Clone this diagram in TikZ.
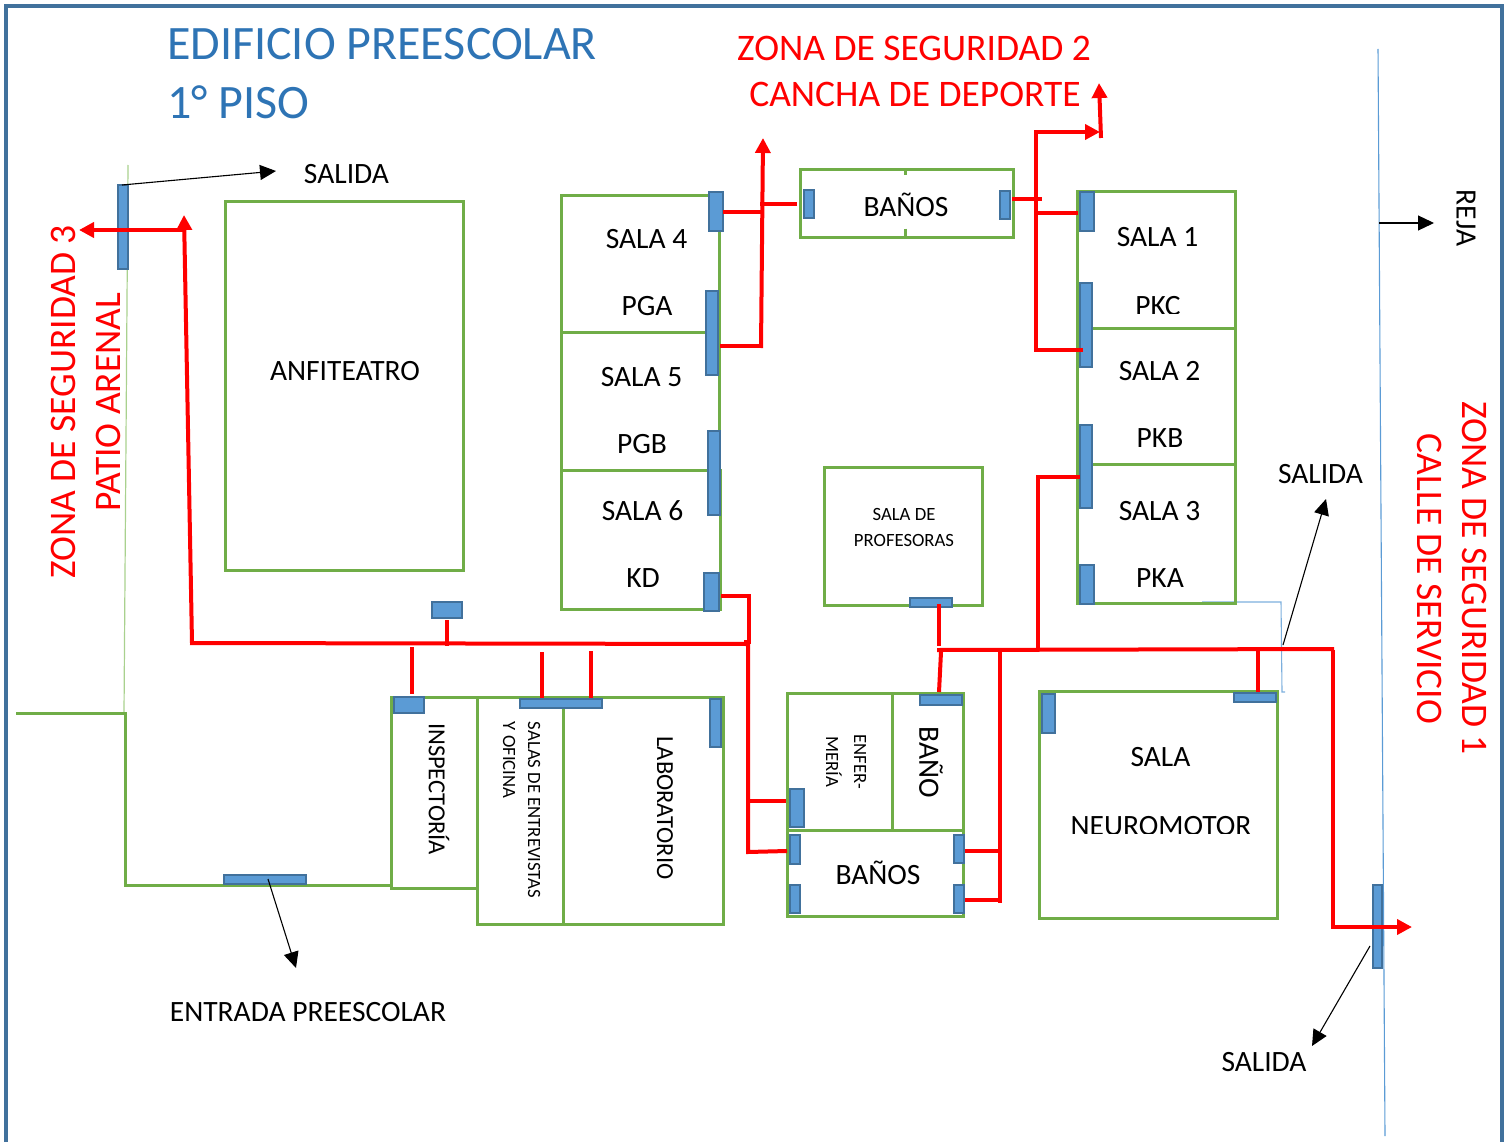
\documentclass[tikz,border=0pt]{standalone}
\usepackage{fontspec}
\setmainfont{Carlito}
\usetikzlibrary{arrows.meta}
\definecolor{frameblue}{HTML}{41719C}
\definecolor{titleblue}{HTML}{2E74B5}
\definecolor{roomgreen}{HTML}{70AD47}
\definecolor{doorfill}{HTML}{5B9BD5}
\definecolor{doorline}{HTML}{41719C}
\definecolor{thinblue}{HTML}{5B9BD5}
\definecolor{lightgreen}{HTML}{A9D18E}
\tikzset{
  room/.style={draw=roomgreen,line width=3pt},
  door/.style={draw=doorline,fill=doorfill,line width=2.6pt},
  route/.style={draw=red,line width=4pt},
  routearrow/.style={route,-{Triangle[length=15pt,width=15pt]}},
  pointer/.style={draw=black,line width=1.1pt,-{Triangle[length=16pt,width=15pt]}},
  lbl/.style={inner sep=0pt,font=\fontsize{29.5}{29.5}\selectfont,text=black},
  rotlbl/.style={inner sep=0pt,font=\fontsize{24.5}{24.5}\selectfont,text=black},
  small/.style={inner sep=0pt,font=\fontsize{18.7}{18.7}\selectfont,text=black},
  zone/.style={inner sep=0pt,font=\fontsize{37.5}{37.5}\selectfont,text=red},
  titletext/.style={inner sep=0pt,anchor=base west,font=\fontsize{48}{48}\selectfont,text=titleblue}
}
\begin{document}
\begin{tikzpicture}[x=1pt,y=-1pt]
\useasboundingbox (0,0) rectangle (1511,1142);
% frame
\draw[frameblue,line width=4.5pt] (6,1142) -- (6,6) -- (1502,6) -- (1502,1142);
% site lines
\draw[lightgreen,line width=1.2pt] (128,165) -- (124,714);
\draw[roomgreen,line width=3pt] (16,713.5) -- (125,713.5) -- (125,885) -- (390,885);
\draw[thinblue,line width=1.1pt] (1378,49) -- (1385,1136);
\draw[thinblue!80,line width=1.1pt] (1202,602) -- (1281,602) -- (1282,692) -- (1285,692);
% rooms
\begin{scope}[xshift=-0.5pt,yshift=0.5pt]
\draw[room] (226,202) rectangle (464,571);
\draw[room] (562,196) rectangle (720,333);
\draw[room] (562,333) rectangle (720,471);
\draw[room] (562,471) rectangle (721,610);
\draw[room] (801,170) rectangle (1014,238);
\draw[roomgreen,line width=2.4pt] (906,170) -- (906,176) (906,229) -- (906,238);
\draw[room] (1078,192) rectangle (1236,329);
\draw[room] (1078,329) rectangle (1236,465);
\draw[room] (1078,465) rectangle (1236,604);
\draw[room] (825,468) rectangle (983,606);
\draw[room] (392,698) rectangle (478,889);
\draw[room] (478,698) rectangle (564,925);
\draw[room] (564,698) rectangle (724,925);
\draw[room] (788,694) rectangle (964,831);
\draw[room] (893,694) -- (893,831);
\draw[room] (788,831) rectangle (964,917);
\draw[room] (1040,692) rectangle (1278,919);
\end{scope}
% doors
\draw[door] (118,185) rectangle (128,269);
\draw[door] (709,192) rectangle (723,231);
\draw[door] (706,291) rectangle (718,375);
\draw[door] (708,431) rectangle (720,515);
\draw[door] (704,573) rectangle (719,611);
\draw[door] (804,190) rectangle (814,218);
\draw[door] (1000,191) rectangle (1010,219);
\draw[door] (1080,192) rectangle (1094,231);
\draw[door] (1080,283) rectangle (1092,367);
\draw[door] (1080,425) rectangle (1092,508);
\draw[door] (1080,565) rectangle (1094,604);
\draw[door] (910,598) rectangle (952,607);
\draw[door] (432,602) rectangle (462,618);
\draw[door] (394,697) rectangle (424,713);
\draw[door] (520,699) rectangle (602,708);
\draw[door] (710,699) rectangle (721,747);
\draw[door] (790,789) rectangle (804,827);
\draw[door] (790,835) rectangle (800,864);
\draw[door] (790,885) rectangle (800,913);
\draw[door] (954,835) rectangle (964,863);
\draw[door] (954,885) rectangle (964,913);
\draw[door] (920,695) rectangle (962,705);
\draw[door] (1042,694) rectangle (1055,733);
\draw[door] (1234,693) rectangle (1276,702);
\draw[door] (224,875) rectangle (306,884);
\draw[door] (1373,885) rectangle (1382,968);
% black pointers
\draw[pointer] (122,185) -- (276,171);
\draw[pointer] (268,879) -- (296,968);
\draw[pointer] (1283,645) -- (1326,499);
\draw[pointer] (1370,946) -- (1312,1046);
\draw[pointer] (1379,223) -- (1434,223);
% red routes
\draw[routearrow] (192,643) -- (184,215);
\draw[routearrow] (184,230) -- (79,230);
\draw[route] (190,643) -- (749,644);
\draw[route] (447,620) -- (447,646);
\draw[route] (412,647) -- (412,694);
\draw[route] (542,652) -- (542,698);
\draw[route] (591,651) -- (591,698);
\draw[route] (721,596) -- (749,596) -- (749,644);
\draw[route] (744,642) -- (748,642) -- (748,852) -- (787,851);
\draw[route] (748,801) -- (786,801);
\draw[route] (723,212) -- (762,212);
\draw[route] (720,346) -- (761,346);
\draw[routearrow] (761,348) -- (763,138);
\draw[route] (760,204) -- (797,204);
\draw[route] (1012,199) -- (1042,199);
\draw[route] (1083,350) -- (1036,350) -- (1036,132);
\draw[routearrow] (1034,132) -- (1100,132);
\draw[route] (1036,213) -- (1078,213);
\draw[routearrow] (1101,138) -- (1099,83);
\draw[route] (1080,477) -- (1038,477) -- (1038,648);
\draw[route] (939,604) -- (939,646);
\draw[route] (941,652) -- (939,692);
\draw[route] (937,650) -- (1334,649);
\draw[route] (1000,650) -- (1000,903);
\draw[route] (965,851) -- (1000,851);
\draw[route] (965,900) -- (1000,900);
\draw[route] (1258,650) -- (1258,692);
\draw[routearrow] (1333,650) -- (1333,927) -- (1412,927);
% titles
\node[titletext] (title1) at (167,60) {EDIFICIO PREESCOLAR};
\node[titletext] (title2) at (167,119) {1° PISO};
\node[zone] (zone2a) at (914,48) {ZONA DE SEGURIDAD 2};
\node[zone] (zone2b) at (915,94) {CANCHA DE DEPORTE};
\node[zone,rotate=90] (zone3a) at (63,402) {ZONA DE SEGURIDAD 3};
\node[zone,rotate=90] (zone3b) at (108,402) {PATIO ARENAL};
\node[zone,rotate=-90] (zone1a) at (1475,578) {ZONA DE SEGURIDAD 1};
\node[zone,rotate=-90] (zone1b) at (1430,579) {CALLE DE SERVICIO};
% labels
\node[lbl] (salidaA) at (346.5,174) {SALIDA};
\node[lbl] (anfi) at (345,371) {ANFITEATRO};
\node[lbl] (s4) at (646.5,239) {SALA 4};
\node[lbl] (pga) at (647,306.5) {PGA};
\node[lbl] (s5) at (641.5,377) {SALA 5};
\node[lbl] (pgb) at (642,444.5) {PGB};
\node[lbl] (s6) at (642.5,511) {SALA 6};
\node[lbl] (kd) at (643,578.5) {KD};
\node[lbl] (banosA) at (906,205) {BAÑOS};
\node[lbl] (s1) at (1157.5,237) {SALA 1};
\begin{scope}
\clip (1100,280) rectangle (1230,313.5);
\node[lbl] (pkc) at (1158,306) {PKC};
\end{scope}
\node[lbl] (s2) at (1159.5,371) {SALA 2};
\node[lbl] (pkb) at (1160,438.5) {PKB};
\node[lbl] (s3) at (1159.5,511) {SALA 3};
\node[lbl] (pka) at (1160,578.5) {PKA};
\node[small] (prof1) at (904,514) {SALA DE};
\node[small] (prof2) at (904,540) {PROFESORAS};
\node[lbl] (salidaB) at (1320.5,474) {SALIDA};
\node[lbl] (neuro1) at (1160.5,757) {SALA};
\begin{scope}
\clip (1045,800) rectangle (1270,833);
\node[lbl] (neuro2) at (1161,826) {NEUROMOTOR};
\end{scope}
\node[rotlbl,rotate=-90] (insp) at (439,789) {INSPECTORÍA};
\node[small,rotate=-90] (ent1) at (534,810) {SALAS DE ENTREVISTAS};
\node[small,rotate=-90] (ent2) at (509,760) {Y OFICINA};
\node[rotlbl,rotate=-90] (lab) at (665,808) {LABORATORIO};
\node[small,rotate=-90] (enf1) at (860,762) {ENFER-};
\node[small,rotate=-90] (enf2) at (834,762) {MERÍA};
\node[lbl,rotate=-90] (bano) at (931,762) {BAÑO};
\node[lbl] (banosB) at (878,873) {BAÑOS};
\node[lbl] (entrada) at (308,1012) {ENTRADA PREESCOLAR};
\node[lbl] (salidaC) at (1264,1062) {SALIDA};
\node[lbl,rotate=-90] (reja) at (1466,218) {REJA};
\end{tikzpicture}
\end{document}
